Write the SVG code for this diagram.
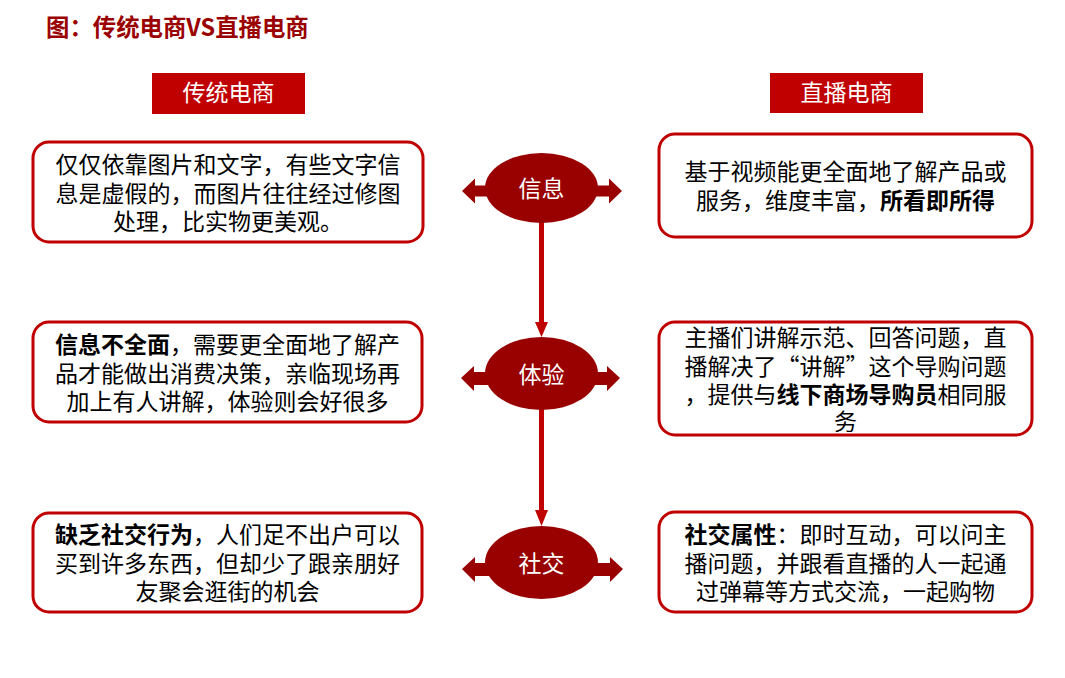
<svg xmlns="http://www.w3.org/2000/svg" width="1065" height="678" viewBox="0 0 1065 678">
<style>
text{font-family:"Noto Sans CJK SC","Noto Sans",sans-serif;}
.title{font-size:23.4px;font-weight:bold;fill:#9b0000;}
.hdr{fill:#c00000;}
.hdrt{font-size:23px;fill:#fff;text-anchor:middle;}
.box{fill:#fff;stroke:#c00000;stroke-width:3;}
.bt{font-size:23px;fill:#000;text-anchor:middle;}
.b{font-weight:bold;}
.ell{fill:#990000;}
.et{font-size:23px;fill:#fff;text-anchor:middle;}
.conn{stroke:#c00000;stroke-width:5;fill:none;}
.head{fill:#c00000;}
</style>
<rect width="1065" height="678" fill="#fff"/>
<text class="title" x="46" y="36">图：传统电商VS直播电商</text>

<g id="hdr-left">
<rect class="hdr" x="152" y="73" width="153" height="41"/>
<text class="hdrt" x="228.5" y="101">传统电商</text>
</g>
<g id="hdr-right">
<rect class="hdr" x="770" y="73" width="153" height="40"/>
<text class="hdrt" x="846.5" y="101">直播电商</text>
</g>

<g id="connectors">
<line class="conn" x1="541.5" y1="222" x2="541.5" y2="324"/>
<polygon class="head" points="535,322 548,322 541.5,337"/>
<line class="conn" x1="541.5" y1="408" x2="541.5" y2="512"/>
<polygon class="head" points="535,510 548,510 541.5,526"/>
</g>

<g id="node-info">
<polygon class="ell" points="462,191 475,178.5 475,185.5 609,185.5 609,178.5 622,191 609,203.5 609,196.5 475,196.5 475,203.5"/>
<ellipse class="ell" cx="541.5" cy="188" rx="56.5" ry="35"/>
<text class="et" x="541.5" y="197">信息</text>
</g>
<g id="node-exp">
<polygon class="ell" points="461,378 474,366 474,372 607,372 607,366 620,378 607,391 607,385 474,385 474,391"/>
<ellipse class="ell" cx="541.5" cy="373.5" rx="56.5" ry="36.5"/>
<text class="et" x="541.5" y="383">体验</text>
</g>
<g id="node-social">
<polygon class="ell" points="462,569 475,557 475,563 610,563 610,557 623,569 610,582 610,576 475,576 475,582"/>
<ellipse class="ell" cx="541.5" cy="562.5" rx="56.5" ry="36.5"/>
<text class="et" x="541.5" y="572">社交</text>
</g>

<g id="left-1">
<rect class="box" x="33" y="142" width="390" height="100" rx="16"/>
<text class="bt" x="228" y="173"><tspan x="228" y="173">仅仅依靠图片和文字，有些文字信</tspan><tspan x="228" y="201.5">息是虚假的，而图片往往经过修图</tspan><tspan x="228" y="230">处理，比实物更美观。</tspan></text>
</g>
<g id="left-2">
<rect class="box" x="33" y="322" width="389" height="100" rx="16"/>
<text class="bt" x="227.5" y="353"><tspan x="227.5" y="353"><tspan class="b">信息不全面</tspan>，需要更全面地了解产</tspan><tspan x="227.5" y="381.5">品才能做出消费决策，亲临现场再</tspan><tspan x="227.5" y="410">加上有人讲解，体验则会好很多</tspan></text>
</g>
<g id="left-3">
<rect class="box" x="33" y="513" width="389" height="99" rx="16"/>
<text class="bt" x="227.5" y="543"><tspan x="227.5" y="543"><tspan class="b">缺乏社交行为</tspan>，人们足不出户可以</tspan><tspan x="227.5" y="571.5">买到许多东西，但却少了跟亲朋好</tspan><tspan x="227.5" y="600">友聚会逛街的机会</tspan></text>
</g>

<g id="right-1">
<rect class="box" x="659" y="134" width="373" height="103" rx="16"/>
<text class="bt" x="845.5" y="180"><tspan x="845.5" y="180">基于视频能更全面地了解产品或</tspan><tspan x="845.5" y="208.5">服务，维度丰富，<tspan class="b">所看即所得</tspan></tspan></text>
</g>
<g id="right-2">
<rect class="box" x="659" y="322" width="373" height="113" rx="16"/>
<text class="bt" x="845.5" y="346"><tspan x="845.5" y="346">主播们讲解示范、回答问题，直</tspan><tspan x="845.5" y="374.5">播解决了“讲解”这个导购问题</tspan><tspan x="845.5" y="402.5">，提供与<tspan class="b">线下商场导购员</tspan>相同服</tspan><tspan x="845.5" y="430">务</tspan></text>
</g>
<g id="right-3">
<rect class="box" x="659" y="512" width="373" height="100" rx="16"/>
<text class="bt" x="845.5" y="543"><tspan x="845.5" y="543"><tspan class="b">社交属性</tspan>：即时互动，可以问主</tspan><tspan x="845.5" y="571.5">播问题，并跟看直播的人一起通</tspan><tspan x="845.5" y="600">过弹幕等方式交流，一起购物</tspan></text>
</g>
</svg>
